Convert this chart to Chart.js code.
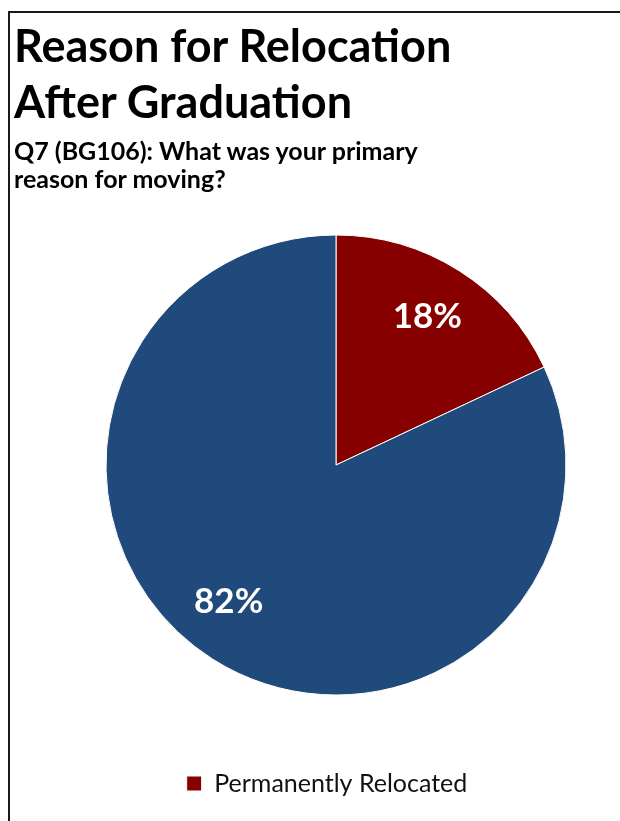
<!DOCTYPE html>
<html>
<head>
<meta charset="utf-8">
<script src="https://cdn.jsdelivr.net/npm/chart.js@4"></script>
<style>
  html, body { margin: 0; padding: 0; background: #fff; }
  body { width: 620px; height: 821px; position: relative; overflow: hidden; }
  #frame { position: absolute; left: 8px; top: 11px; width: 700px; height: 900px;
           border-left: 2px solid #1a1a1a; border-top: 2px solid #1a1a1a; }
  #title { position: absolute; left: 14px; top: 17px; font: bold 45px Lato, sans-serif;
           line-height: 56px; color: #000; white-space: nowrap; }
  #subtitle { position: absolute; left: 14px; top: 136px; font: bold 25px Lato, sans-serif;
              line-height: 28px; color: #000; white-space: nowrap; }
  #chart { position: absolute; left: 0; top: 0; }
</style>
</head>
<body>
<div id="frame"></div>
<canvas id="chart" width="620" height="821"></canvas>
<div id="title">Reason for Relocation<br>After Graduation</div>
<div id="subtitle">Q7 (BG106): What was your primary<br>reason for moving?</div>
<script>
// Survey answers, percent of respondents
const categories = ['Permanently Relocated', 'Other Reason'];
const shares = [18, 82];
const sliceColors = ['#870000', '#214A7C'];
const legendShown = ['Permanently Relocated'];

// Percent labels drawn inside each slice, with a small per-slice nudge
const sliceLabels = {
  id: 'sliceLabels',
  afterDatasetsDraw(chart, args, opts) {
    const ctx = chart.ctx;
    const meta = chart.getDatasetMeta(0);
    ctx.save();
    ctx.fillStyle = '#ffffff';
    ctx.font = 'bold 35px Lato, sans-serif';
    ctx.textAlign = 'center';
    ctx.textBaseline = 'middle';
    meta.data.forEach((arc, i) => {
      const p = arc.getProps(['x', 'y', 'startAngle', 'endAngle', 'outerRadius'], true);
      const mid = (p.startAngle + p.endAngle) / 2;
      const r = p.outerRadius * 0.757;
      const nudge = opts.nudge[i] || [0, 0];
      ctx.fillText(shares[i] + '%', p.x + Math.cos(mid) * r + nudge[0], p.y + Math.sin(mid) * r + nudge[1]);
    });
    ctx.restore();
  }
};

// Slide the legend box sideways after layout
const legendShift = {
  id: 'legendShift',
  afterUpdate(chart, args, opts) {
    const lg = chart.legend;
    if (lg) { lg.left += opts.dx; lg.right += opts.dx; }
  }
};

new Chart(document.getElementById('chart'), {
  type: 'pie',
  data: {
    labels: categories,
    datasets: [{
      data: shares,
      backgroundColor: sliceColors,
      borderColor: '#ffffff',
      borderWidth: 1,
      radius: 230
    }]
  },
  options: {
    responsive: false,
    animation: false,
    layout: { padding: { left: 52, right: 0, top: 169, bottom: 15 } },
    plugins: {
      tooltip: { enabled: false },
      sliceLabels: { nudge: [[-2, -1], [-14, -10]] },
      legendShift: { dx: -9 },
      legend: {
        position: 'bottom',
        labels: {
          filter: item => legendShown.includes(item.text),
          boxWidth: 15,
          boxHeight: 15,
          padding: 10,
          color: '#111',
          font: { family: 'Lato, sans-serif', size: 25 }
        }
      }
    }
  },
  plugins: [sliceLabels, legendShift]
});
</script>
</body>
</html>
